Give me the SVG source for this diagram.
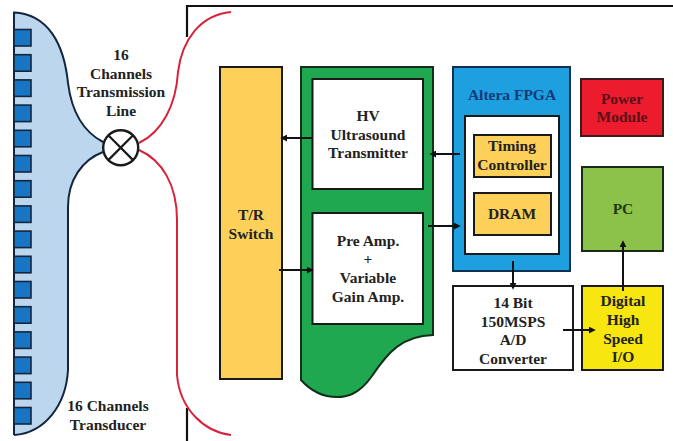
<svg xmlns="http://www.w3.org/2000/svg" width="673" height="441" viewBox="0 0 673 441">
<style>
.b{stroke:#1a1a1a;stroke-width:2}
.w{fill:#fff}
.y{fill:#fdd05a}
.t{font-family:"Liberation Serif",serif;font-weight:bold;font-size:15.500px;fill:#222;text-anchor:middle}
.r{fill:none;stroke:#d8233c;stroke-width:2}
.e{fill:#1875c4;stroke:#14263f;stroke-width:1.600}
</style>
<defs>
<marker id="a" viewBox="0 0 8 8" refX="6" refY="4" markerWidth="7" markerHeight="7" markerUnits="userSpaceOnUse" orient="auto"><path d="M0 0L8 4L0 8z" fill="#111"/></marker>
</defs>
<rect width="673" height="441" fill="#fff"/>
<g id="frame"><path d="M673 6H187V37M187 408V441" fill="none" stroke="#111" stroke-width="2.200"/></g>
<g id="transducer">
<path d="M14 12.500C48 14 64 44 68 83C72 115 86 133 103 142L103 152C82 160 68 180 68 207V370C66 405 45 433 14 435Z" fill="#bcd6ed"/>
<path d="M14 435V12.500C48 14 64 44 68 83C72 115 86 133 103 142M103 152C82 160 68 180 68 207V370C66 405 45 433 14 435" fill="none" stroke="#14263f" stroke-width="2"/>
<rect class="e" x="14" y="29.500" width="17" height="16.500"/>
<rect class="e" x="14" y="54.700" width="17" height="16.500"/>
<rect class="e" x="14" y="79.900" width="17" height="16.500"/>
<rect class="e" x="14" y="105.100" width="17" height="16.500"/>
<rect class="e" x="14" y="130.300" width="17" height="16.500"/>
<rect class="e" x="14" y="155.500" width="17" height="16.500"/>
<rect class="e" x="14" y="180.700" width="17" height="16.500"/>
<rect class="e" x="14" y="205.900" width="17" height="16.500"/>
<rect class="e" x="14" y="231.100" width="17" height="16.500"/>
<rect class="e" x="14" y="256.300" width="17" height="16.500"/>
<rect class="e" x="14" y="281.500" width="17" height="16.500"/>
<rect class="e" x="14" y="306.700" width="17" height="16.500"/>
<rect class="e" x="14" y="331.900" width="17" height="16.500"/>
<rect class="e" x="14" y="357.100" width="17" height="16.500"/>
<rect class="e" x="14" y="382.300" width="17" height="16.500"/>
<rect class="e" x="14" y="407.500" width="17" height="16.500"/>
<text class="t" x="108" y="411">16 Channels</text>
<text class="t" x="108" y="430">Transducer</text>
</g>
<g id="transmission-line">
<path class="r" d="M231 12C200 15 182 40 178 72C176 105 162 132 139 143"/>
<path class="r" d="M139 150C162 160 177 185 177 220V375C180 410 205 432 231 435"/>
<circle cx="120.700" cy="147.700" r="17.500" fill="#fff" stroke="#1a1a1a" stroke-width="2.400"/>
<path d="M108.300 135.300L133.100 160.100M133.100 135.300L108.300 160.100" stroke="#1a1a1a" stroke-width="2.200"/>
<text class="t" x="121" y="60">16</text>
<text class="t" x="121" y="79">Channels</text>
<text class="t" x="121" y="97">Transmission</text>
<text class="t" x="121" y="116">Line</text>
</g>
<g id="tr-switch">
<rect class="y b" x="220" y="67" width="62" height="312"/>
<text class="t" x="251" y="220">T/R</text>
<text class="t" x="251" y="239">Switch</text>
</g>
<g id="analog-board">
<path d="M301 67H433V335C402 336 388 352 372 376C358 396 345 397 337 397C322 397 310 390 301 380Z" fill="#1fa84f" stroke="#10301c" stroke-width="2"/>
</g>
<g id="hv-transmitter">
<rect class="w b" x="312.500" y="79" width="110.500" height="110"/>
<text class="t" x="368" y="121">HV</text>
<text class="t" x="368" y="140">Ultrasound</text>
<text class="t" x="368" y="158">Transmitter</text>
</g>
<g id="pre-amp">
<rect class="w b" x="312.500" y="213" width="110.500" height="111"/>
<text class="t" x="368" y="246">Pre Amp.</text>
<text class="t" x="368" y="264">+</text>
<text class="t" x="368" y="283">Variable</text>
<text class="t" x="368" y="302">Gain Amp.</text>
</g>
<g id="fpga">
<rect x="453" y="67" width="117" height="204" fill="#1e9fe0" stroke="#10304f" stroke-width="2"/>
<text class="t" x="512" y="100" style="fill:#143a78">Altera FPGA</text>
<rect class="w b" x="465" y="116" width="94" height="138"/>
</g>
<g id="timing-controller">
<rect class="y b" x="474" y="135" width="77" height="42"/>
<text class="t" x="512" y="151">Timing</text>
<text class="t" x="512" y="170">Controller</text>
</g>
<g id="dram">
<rect class="y b" x="474" y="193" width="77" height="42"/>
<text class="t" x="512" y="219">DRAM</text>
</g>
<g id="power-module">
<rect x="581" y="79" width="82" height="57" fill="#ec1c2e" stroke="#3a1a1a" stroke-width="2"/>
<text class="t" x="622" y="104" style="fill:#5a1018">Power</text>
<text class="t" x="622" y="122" style="fill:#5a1018">Module</text>
</g>
<g id="pc">
<rect x="582" y="167" width="81" height="84" fill="#8cc24a" stroke="#1a2a1a" stroke-width="2"/>
<text class="t" x="623" y="214" style="fill:#1a3a10">PC</text>
</g>
<g id="adc">
<rect class="w b" x="453" y="286" width="120" height="84"/>
<text class="t" x="513" y="308">14 Bit</text>
<text class="t" x="513" y="327">150MSPS</text>
<text class="t" x="513" y="345">A/D</text>
<text class="t" x="513" y="364">Converter</text>
</g>
<g id="digital-io">
<rect x="582" y="286" width="81" height="84" fill="#f7e60f" stroke="#1a1a1a" stroke-width="2"/>
<text class="t" x="623" y="306">Digital</text>
<text class="t" x="623" y="325">High</text>
<text class="t" x="623" y="344">Speed</text>
<text class="t" x="623" y="362">I/O</text>
</g>
<g id="connectors" fill="none" stroke="#111" stroke-width="2">
<path d="M312 138H282" marker-end="url(#a)"/>
<path d="M460 154H431" marker-end="url(#a)"/>
<path d="M428 226H459" marker-end="url(#a)"/>
<path d="M279 270H312" marker-end="url(#a)"/>
<path d="M513 261V288" marker-end="url(#a)"/>
<path d="M563 330H594" marker-end="url(#a)"/>
<path d="M623 291V242" marker-end="url(#a)"/>
</g>
</svg>
